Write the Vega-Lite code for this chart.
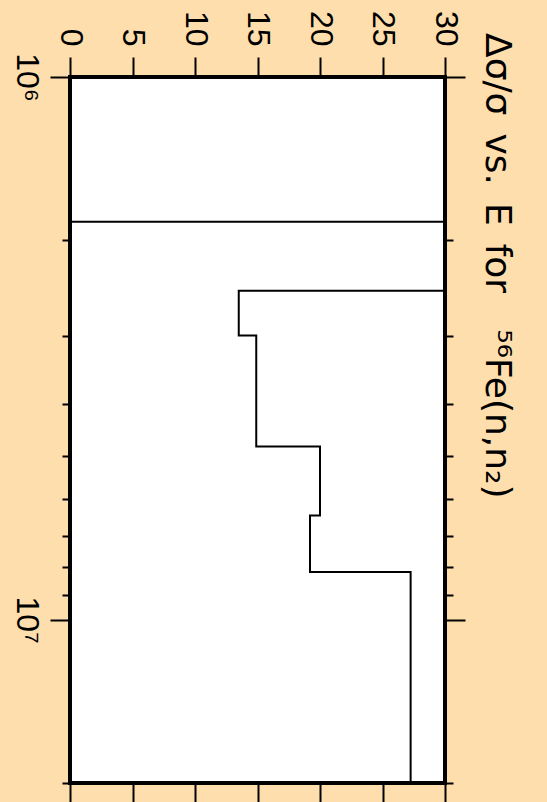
{
  "$schema": "https://vega.github.io/schema/vega-lite/v6.json",
  "width": 375,
  "height": 706,
  "autosize": {"type": "none"},
  "padding": {"left": 70, "top": 77, "right": 102, "bottom": 19},
  "background": "#FFDEAD",
  "view": {"fill": "white", "stroke": "black", "strokeWidth": 4},
  "config": {
    "font": "Liberation Sans",
    "axis": {"domain": false, "grid": false, "tickColor": "black", "tickWidth": 2, "labelColor": "black", "title": null, "labelFlush": false, "labelOverlap": false}
  },
  "title": {
    "text": "Δσ/σ\u2002vs.\u2002E\u2002for\u2003⁵⁶Fe(n,n₂)",
    "orient": "right",
    "anchor": "start",
    "frame": "group",
    "font": "DejaVu Sans",
    "fontSize": 36,
    "fontWeight": "normal",
    "color": "black",
    "offset": 12,
    "dx": -44
  },
  "data": {
    "values": [
      {"i": 0, "E": 1000000, "dsig": 0},
      {"i": 1, "E": 1849000, "dsig": 0},
      {"i": 2, "E": 1849000, "dsig": 40},
      {"i": 3, "E": 2478000, "dsig": 40},
      {"i": 4, "E": 2478000, "dsig": 13.5},
      {"i": 5, "E": 2996000, "dsig": 13.5},
      {"i": 6, "E": 2996000, "dsig": 14.9},
      {"i": 7, "E": 4796000, "dsig": 14.9},
      {"i": 8, "E": 4796000, "dsig": 20.0},
      {"i": 9, "E": 6427000, "dsig": 20.0},
      {"i": 10, "E": 6427000, "dsig": 19.2},
      {"i": 11, "E": 8170000, "dsig": 19.2},
      {"i": 12, "E": 8170000, "dsig": 27.25},
      {"i": 13, "E": 20000000, "dsig": 27.25}
    ]
  },
  "resolve": {"axis": {"x": "independent", "y": "independent"}},
  "layer": [
    {
      "mark": {"type": "line", "clip": true, "color": "black", "strokeWidth": 2},
      "encoding": {
        "x": {
          "field": "dsig", "type": "quantitative",
          "scale": {"domain": [0, 30], "nice": false, "zero": false},
          "axis": {
            "orient": "top", "values": [0, 5, 10, 15, 20, 25, 30], "tickSize": 20,
            "labelAngle": 90, "labelAlign": "right", "labelBaseline": "middle",
            "labelPadding": 11, "labelFontSize": 32
          }
        },
        "y": {
          "field": "E", "type": "quantitative",
          "scale": {"type": "log", "domain": [1000000, 20000000], "nice": false, "reverse": true},
          "axis": {
            "orient": "left",
            "values": [1000000, 2000000, 3000000, 4000000, 5000000, 6000000, 7000000, 8000000, 9000000, 10000000, 20000000],
            "tickSize": {"condition": {"test": "datum.value == 1000000 || datum.value == 10000000", "value": 20}, "value": 8},
            "labelExpr": "datum.value == 1000000 ? '10⁶' : datum.value == 10000000 ? '10⁷' : ''",
            "labelAngle": 90, "labelAlign": "center", "labelBaseline": "top",
            "labelPadding": 9, "labelFontSize": 32
          }
        },
        "order": {"field": "i", "type": "quantitative"}
      }
    },
    {
      "mark": {"type": "line", "opacity": 0, "clip": true},
      "encoding": {
        "x": {
          "field": "dsig", "type": "quantitative",
          "axis": {"orient": "bottom", "values": [0, 5, 10, 15, 20, 25, 30], "tickSize": 20, "labels": false}
        },
        "y": {
          "field": "E", "type": "quantitative",
          "axis": {
            "orient": "right",
            "values": [1000000, 2000000, 3000000, 4000000, 5000000, 6000000, 7000000, 8000000, 9000000, 10000000, 20000000],
            "tickSize": {"condition": {"test": "datum.value == 1000000 || datum.value == 10000000", "value": 20}, "value": 8},
            "labels": false
          }
        },
        "order": {"field": "i", "type": "quantitative"}
      }
    }
  ]
}
